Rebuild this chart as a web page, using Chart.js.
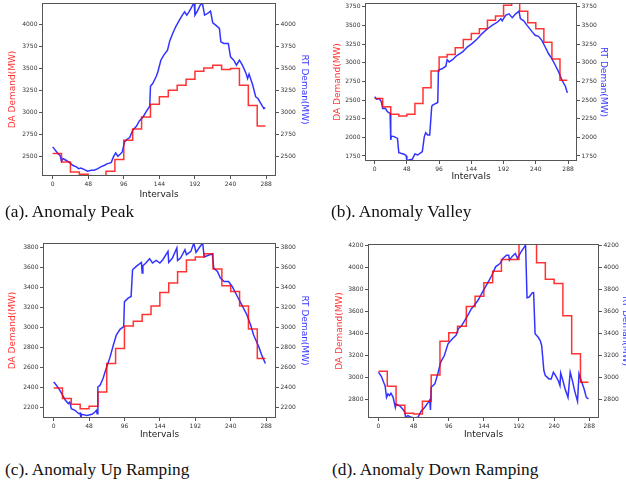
<!DOCTYPE html>
<html><head><meta charset="utf-8">
<script src="https://cdn.jsdelivr.net/npm/chart.js@4"></script>
<style>
html,body{margin:0;padding:0;background:#fff;overflow:hidden;width:626px;height:485px;position:relative}
canvas{position:absolute}
.cap{position:absolute;font-family:"Liberation Serif","Times New Roman",serif;font-size:17.3px;color:#111;white-space:nowrap;line-height:1}
</style></head><body>
<canvas id="cA" width="313" height="205" style="left:0;top:0"></canvas>
<canvas id="cB" width="313" height="190" style="left:313px;top:0"></canvas>
<canvas id="cC" width="313" height="215" style="left:0;top:230px"></canvas>
<canvas id="cD" width="330" height="215" style="left:313px;top:230px"></canvas>
<div class="cap" style="left:5px;top:203px">(a). Anomaly Peak</div>
<div class="cap" style="left:331px;top:203px">(b). Anomaly Valley</div>
<div class="cap" style="left:5px;top:461px">(c). Anomaly Up Ramping</div>
<div class="cap" style="left:332px;top:461px">(d). Anomaly Down Ramping</div>
<script>
// ---- data ----
const X_TICKS = [0, 48, 96, 144, 192, 240, 288];

// (a) Anomaly Peak
const DA_A = [2530, 2435, 2321, 2295, 2275, 2275, 2329, 2461, 2681, 2810, 2946, 3090, 3174, 3250, 3306, 3375, 3466, 3503, 3534, 3485, 3496, 3306, 3075, 2844];
const RT_A_T = [0, 2, 7, 10, 12, 14, 18, 23, 27, 32, 35, 38, 43, 47, 52, 56, 61, 65, 70, 74, 79, 82, 85, 88, 91, 94, 97, 100, 104, 108, 113, 117, 122, 126, 131, 132, 135, 140, 142, 146, 150, 155, 158, 162, 166, 171, 175, 178, 181, 184, 189, 191, 192, 196, 199, 202, 205, 209, 213, 216, 220, 225, 227, 231, 237, 240, 245, 248, 252, 256, 261, 263, 265, 270, 274, 277, 281, 285, 287];
const RT_A = [2605, 2586, 2530, 2510, 2442, 2473, 2454, 2427, 2397, 2378, 2359, 2366, 2348, 2329, 2340, 2340, 2359, 2378, 2397, 2416, 2427, 2492, 2537, 2499, 2522, 2548, 2662, 2689, 2711, 2795, 2840, 2901, 2946, 3003, 3068, 3295, 3325, 3410, 3460, 3590, 3648, 3704, 3810, 3894, 3970, 4045, 4102, 4140, 4102, 4140, 4216, 4240, 4102, 4159, 4216, 4240, 4102, 4121, 4148, 4015, 3989, 3951, 3799, 3780, 3780, 3629, 3583, 3534, 3591, 3534, 3439, 3382, 3432, 3306, 3174, 3155, 3098, 3041, 3053];
const Y_TICKS_A = [2500, 2750, 3000, 3250, 3500, 3750, 4000];

// (b) Anomaly Valley
const DA_B = [2520, 2410, 2310, 2285, 2310, 2455, 2665, 2890, 3077, 3110, 3200, 3310, 3390, 3455, 3570, 3625, 3770, 3800, 3690, 3535, 3455, 3275, 3050, 2765];
const RT_B_T = [0, 3, 7, 10, 12, 16, 19, 23, 24, 25, 29, 34, 36, 39, 44, 47, 48, 51, 56, 60, 64, 69, 71, 74, 76, 79, 82, 85, 86, 91, 94, 95, 101, 106, 108, 111, 116, 120, 123, 131, 138, 145, 153, 160, 168, 175, 183, 188, 190, 195, 200, 205, 210, 215, 217, 222, 227, 235, 239, 244, 249, 254, 259, 264, 269, 274, 279, 284, 287];
const RT_B = [2543, 2512, 2520, 2475, 2387, 2390, 2343, 2320, 1965, 2017, 2010, 1986, 1795, 1786, 1773, 1755, 1683, 1697, 1705, 1777, 1763, 1795, 1808, 2010, 2062, 2030, 2030, 2410, 2430, 2454, 2467, 2900, 2922, 2953, 3042, 3010, 3040, 3077, 3100, 3145, 3210, 3255, 3320, 3390, 3455, 3500, 3545, 3590, 3560, 3635, 3655, 3603, 3655, 3692, 3590, 3560, 3500, 3410, 3367, 3353, 3300, 3210, 3120, 3055, 2966, 2877, 2765, 2685, 2596];
const Y_TICKS_B = [1750, 2000, 2250, 2500, 2750, 3000, 3250, 3500, 3750];

// (c) Anomaly Up Ramping
const DA_C = [2390, 2284, 2227, 2183, 2207, 2350, 2635, 2786, 3010, 3057, 3124, 3211, 3345, 3440, 3552, 3670, 3700, 3733, 3580, 3412, 3355, 3211, 2980, 2685];
const RT_C_T = [0, 2, 7, 11, 16, 20, 22, 24, 29, 34, 36, 37, 38, 45, 52, 56, 58, 59, 60, 63, 67, 72, 76, 81, 85, 90, 95, 96, 101, 105, 107, 112, 119, 120, 121, 125, 130, 134, 139, 144, 148, 155, 156, 161, 167, 168, 172, 178, 180, 186, 190, 193, 197, 202, 204, 208, 215, 217, 222, 226, 231, 237, 242, 249, 255, 262, 267, 271, 278, 282, 287];
const RT_C = [2450, 2434, 2384, 2334, 2267, 2234, 2250, 2183, 2167, 2133, 2140, 2090, 2127, 2116, 2127, 2150, 2167, 2133, 2400, 2418, 2485, 2602, 2686, 2820, 2920, 2977, 3003, 3254, 3288, 3305, 3572, 3606, 3646, 3539, 3612, 3640, 3683, 3640, 3666, 3640, 3673, 3756, 3646, 3690, 3790, 3666, 3690, 3773, 3723, 3756, 3840, 3746, 3790, 3840, 3700, 3713, 3733, 3589, 3556, 3489, 3455, 3455, 3405, 3305, 3221, 3120, 3020, 2920, 2803, 2719, 2635];
const Y_TICKS_C = [2200, 2400, 2600, 2800, 3000, 3200, 3400, 3600, 3800];

// (d) Anomaly Down Ramping
const DA_D = [3058, 2921, 2749, 2676, 2670, 2785, 3024, 3330, 3406, 3464, 3645, 3736, 3858, 3964, 4070, 4070, 4210, 4210, 4040, 3891, 3852, 3561, 3215, 2958];
const RT_D_T = [0, 4, 7, 9, 11, 13, 15, 17, 20, 23, 24, 29, 33, 36, 37, 40, 45, 49, 54, 58, 63, 68, 70, 71, 72, 77, 81, 85, 90, 95, 101, 106, 109, 113, 118, 122, 127, 131, 136, 141, 144, 150, 155, 160, 166, 170, 175, 178, 179, 183, 187, 190, 194, 201, 203, 206, 210, 212, 214, 218, 221, 223, 226, 228, 233, 236, 239, 242, 246, 248, 249, 252, 255, 259, 262, 265, 268, 272, 274, 277, 281, 284, 287];
const RT_D = [3049, 3009, 2958, 2927, 2821, 2852, 2837, 2858, 2821, 2730, 2760, 2745, 2715, 2685, 2640, 2655, 2640, 2634, 2640, 2694, 2730, 2776, 2797, 2706, 2912, 2943, 3034, 3140, 3200, 3306, 3352, 3382, 3442, 3464, 3518, 3564, 3624, 3655, 3700, 3760, 3797, 3867, 3927, 4003, 4033, 4079, 4109, 4109, 4064, 4100, 4124, 4079, 4130, 4200, 3724, 3730, 3767, 3770, 3397, 3367, 3336, 3291, 3064, 3018, 2988, 2988, 3049, 3018, 2967, 2927, 3040, 2973, 2897, 2821, 3049, 2973, 2882, 2785, 3034, 2973, 2897, 2821, 2806];
const Y_TICKS_D = [2800, 3000, 3200, 3400, 3600, 3800, 4000, 4200];

// ---- drawing ----
const HOURS = 12, LAST = 287;
function daPoints(da){ const p = da.map((v,i)=>({x:i*HOURS,y:v})); p.push({x:LAST,y:da[da.length-1]}); return p; }
function rtPoints(t,v){ return t.map((x,i)=>({x:x,y:v[i]})); }

const framePlugin = {
  id:'frame',
  afterDatasetsDraw(chart){
    const {ctx, chartArea:a} = chart;
    ctx.save(); ctx.strokeStyle='#555'; ctx.lineWidth=1;
    ctx.strokeRect(Math.round(a.left)+0.5, Math.round(a.top)+0.5, Math.round(a.right-a.left)-1, Math.round(a.bottom-a.top)-1);
    ctx.restore();
  }
};

const TICK_FONT = {family:'DejaVu Sans', size:6};
const TITLE_FONT = {family:'DejaVu Sans', size:9};
const RED = 'rgba(255,0,0,0.8)', BLUE = 'rgba(0,0,255,0.8)';

function setTicks(list){ return function(scale){ scale.ticks = list.map(v=>({value:v})); }; }

function makeChart(id, da, rtT, rt, yTicks, L){
  const all = da.concat(rt);
  const ymin = Math.min(...all), ymax = Math.max(...all);
  const yCommon = (pos, title, color, w, tp) => ({
    type:'linear', position:pos, min:ymin, max:ymax,
    afterBuildTicks:setTicks(yTicks),
    afterFit(s){ s.width = w; s.paddingTop = 0; s.paddingBottom = 0; },
    border:{display:false},
    grid:{drawOnChartArea:false, drawTicks:true, tickLength:3, color:'#555'},
    ticks:{font:TICK_FONT, color:'#333', padding:1.5, autoSkip:false, callback:v=>String(v)},
    title:{display:true, text:title, color:color, font:TITLE_FONT, padding:{top:tp, bottom:0}}
  });
  return new Chart(document.getElementById(id), {
    type:'line',
    data:{datasets:[
      {data:daPoints(da), yAxisID:'y', borderColor:RED, borderWidth:1.5, stepped:true, pointRadius:0, fill:false, clip:0},
      {data:rtPoints(rtT, rt), yAxisID:'y1', borderColor:BLUE, borderWidth:1.5, pointRadius:0, tension:0, fill:false, clip:0}
    ]},
    options:{
      responsive:false, animation:false, devicePixelRatio:1,
      layout:{padding:{top:L.top, left:0, right:0, bottom:0}},
      plugins:{legend:{display:false}, tooltip:{enabled:false}},
      scales:{
        x:{type:'linear', min:-14.35, max:301.35,
          afterBuildTicks:setTicks(X_TICKS),
          afterFit(s){ s.height = L.xh; s.paddingLeft = 0; s.paddingRight = 0; },
          border:{display:false},
          grid:{drawOnChartArea:false, drawTicks:true, tickLength:3, color:'#555'},
          ticks:{font:TICK_FONT, color:'#333', padding:1.5, autoSkip:false, maxRotation:0, callback:v=>String(v)},
          title:{display:true, text:'Intervals', color:'#222', font:TITLE_FONT, padding:{top:0, bottom:L.xt}}
        },
        y: yCommon('left', 'DA Demand(MW)', RED, L.lw, L.lt),
        y1: yCommon('right', 'RT Deman(MW)', BLUE, L.rw, L.rt)
      }
    },
    plugins:[framePlugin]
  });
}

makeChart('cA', DA_A, RT_A_T, RT_A, Y_TICKS_A, {top:3, xh:29, xt:4.6, lw:42, lt:7.6, rw:37, rt:3.6});
makeChart('cB', DA_B, RT_B_T, RT_B, Y_TICKS_B, {top:3, xh:29, xt:7.6, lw:52, lt:19.6, rw:49, rt:17.6});
makeChart('cC', DA_C, RT_C_T, RT_C, Y_TICKS_C, {top:13, xh:27, xt:4.6, lw:43, lt:7.6, rw:37, rt:3.6});
makeChart('cD', DA_D, RT_D_T, RT_D, Y_TICKS_D, {top:14, xh:27, xt:4.6, lw:55, lt:21.6, rw:44, rt:12.6});
</script>
</body></html>
